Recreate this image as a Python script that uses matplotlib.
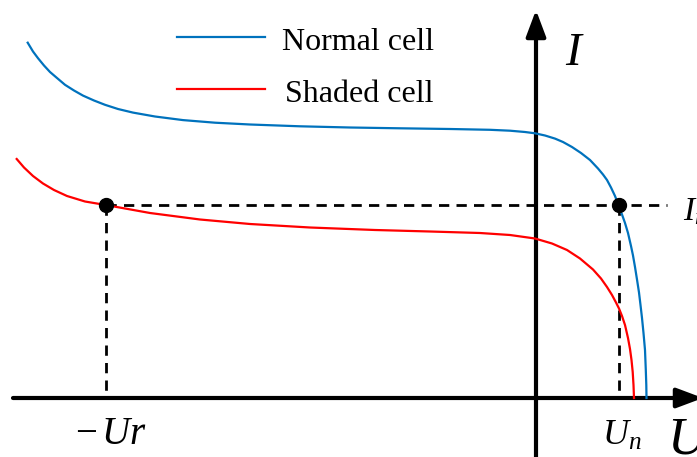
import numpy as np
import matplotlib.pyplot as plt

plt.rcParams['font.family'] = ['Liberation Serif', 'DejaVu Serif']
plt.rcParams['mathtext.fontset'] = 'custom'
plt.rcParams['mathtext.rm'] = 'Liberation Serif'
plt.rcParams['mathtext.it'] = 'Liberation Serif:italic'

# I-U curves (arbitrary units)
u_normal = [-5.083, -5.03, -4.98, -4.92, -4.86, -4.79, -4.71, -4.62, -4.53, -4.42,
            -4.31, -4.18, -4.03, -3.81, -3.53, -3.21, -2.86, -2.36, -1.86, -1.36,
            -0.86, -0.46, -0.26, -0.11, -0.01, 0.09, 0.19, 0.27, 0.36, 0.45,
            0.54, 0.62, 0.67, 0.71, 0.75, 0.79, 0.825, 0.86, 0.89, 0.92,
            0.95, 0.97, 0.99, 1.01, 1.03, 1.045, 1.06, 1.075, 1.09, 1.098,
            1.103, 1.105]
i_normal = [3.553, 3.465, 3.398, 3.325, 3.26, 3.20, 3.132, 3.075, 3.024, 2.975,
            2.932, 2.89, 2.854, 2.815, 2.779, 2.753, 2.735, 2.717, 2.705, 2.697,
            2.69, 2.682, 2.673, 2.66, 2.647, 2.625, 2.594, 2.56, 2.51, 2.45,
            2.38, 2.295, 2.235, 2.18, 2.105, 2.02, 1.93, 1.835, 1.75, 1.65,
            1.52, 1.425, 1.31, 1.185, 1.055, 0.93, 0.80, 0.65, 0.48, 0.28,
            0.13, 0.0]

u_shaded = [-5.193, -5.12, -5.03, -4.93, -4.82, -4.69, -4.51, -4.303, -3.86, -3.36,
            -2.86, -2.26, -1.61, -1.06, -0.56, -0.26, -0.01, 0.16, 0.31, 0.44,
            0.57, 0.65, 0.71, 0.76, 0.80, 0.83, 0.86, 0.89, 0.92, 0.94,
            0.955, 0.967, 0.975, 0.98]
i_shaded = [2.39, 2.305, 2.22, 2.145, 2.08, 2.02, 1.965, 1.93, 1.85, 1.785,
            1.74, 1.705, 1.68, 1.665, 1.65, 1.63, 1.595, 1.545, 1.48, 1.395,
            1.285, 1.195, 1.11, 1.03, 0.955, 0.895, 0.82, 0.73, 0.60, 0.49,
            0.38, 0.26, 0.13, 0.0]

u_n = 0.825
u_r = -4.303
i_n = 1.93

fig = plt.figure(figsize=(6.97, 4.57), dpi=100)
ax = fig.add_axes([0, 0, 1, 1])
ax.set_xlim(-5.36, 1.61)
ax.set_ylim(-0.59, 3.98)
ax.axis('off')

# axes with arrow heads
arrow = dict(arrowstyle='-|>,head_length=1.6,head_width=0.6', lw=3,
             color='k', mutation_scale=10, shrinkA=0, shrinkB=0)
ax.annotate('', xy=(1.67, 0), xytext=(-5.23, 0), arrowprops=arrow,
            annotation_clip=False)
ax.annotate('', xy=(0, 3.88), xytext=(0, -0.6), arrowprops=arrow,
            annotation_clip=False)

ax.plot(u_normal, i_normal, color='#0072BD', lw=1.6, zorder=3,
        solid_joinstyle='round')
ax.plot(u_shaded, i_shaded, color='#FF0000', lw=1.6, zorder=3,
        solid_joinstyle='round')

# operating point guides
dash = dict(color='k', lw=2, dashes=(3.7, 2.6), zorder=2)
ax.plot([u_r, 1.31], [i_n, i_n], **dash)
ax.plot([u_n, u_n], [i_n, 0], **dash)
ax.plot([u_r, u_r], [i_n, 0], **dash)
ax.plot([u_r, u_n], [i_n, i_n], 'o', color='k', ms=10, zorder=4)

# legend drawn by hand
ax.plot([-3.59, -2.71], [3.61, 3.61], color='#0072BD', lw=1.6)
ax.plot([-3.59, -2.71], [3.09, 3.09], color='#FF0000', lw=1.6)
ax.text(-2.54, 3.56, 'Normal cell', fontsize=23, va='center', ha='left')
ax.text(-2.51, 3.04, 'Shaded cell', fontsize=23, va='center', ha='left')

ax.text(0.29, 3.44, r'$I$', fontsize=34, va='center', ha='left')
ax.text(1.47, 1.86, r'$I_n$', fontsize=24, va='center', ha='left')
ax.text(0.66, -0.38, r'$U_n$', fontsize=26, va='center', ha='left')
ax.text(1.31, -0.42, r'$U$', fontsize=38, va='center', ha='left')
ax.text(-4.61, -0.37, r'$-\,Ur$', fontsize=28, va='center', ha='left')

fig.savefig('out.png', dpi=100)
